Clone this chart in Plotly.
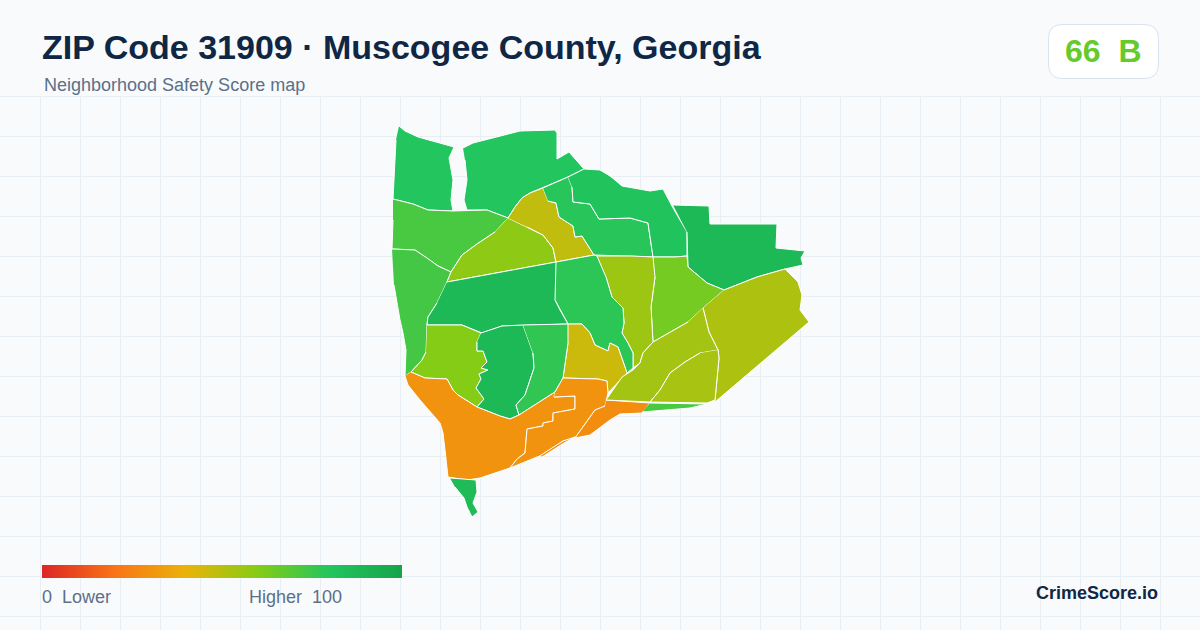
import plotly.graph_objects as go
from plotly.colors import find_intermediate_color, hex_to_rgb

WIDTH = 1200
HEIGHT = 630
GRID_TOP = 96

title = "ZIP Code 31909 · Muscogee County, Georgia"
subtitle = "Neighborhood Safety Score map"
zip_score = 66
zip_grade = "B"
legend_low = "0\u00a0\u00a0Lower"
legend_high = "Higher\u00a0\u00a0100"
brand = "CrimeScore.io"

scale_stops = [0, 0.2, 0.4, 0.6, 0.8, 1]
scale_colors = ["#dc2626", "#f97316", "#eab308", "#84cc16", "#22c55e", "#16a34a"]

# Outlines are (x, y) map positions, one list per neighborhood
north_west = [(399, 126), (405, 131), (418, 137), (454, 147), (449, 158), (453, 180), (451, 200), (453, 211), (428, 210), (413, 204), (393, 199), (394, 173), (396, 140)]
north_mid = [(463, 148), (473, 143), (520, 131), (555, 130), (557, 133), (557, 159), (569, 152), (584, 169), (568, 177), (543, 188), (530, 193), (522, 198), (515, 207), (508, 218), (487, 210), (467, 210), (464, 200), (467, 180), (465, 160)]
west = [(393, 199), (413, 204), (428, 210), (453, 211), (487, 210), (508, 218), (495, 232), (477, 244), (462, 255), (451, 272), (438, 266), (427, 258), (415, 250), (392, 249), (393, 220)]
south_west = [(392, 249), (415, 250), (427, 258), (438, 266), (451, 272), (447, 282), (437, 303), (428, 317), (427, 325), (426, 352), (422, 360), (411, 372), (405, 376), (406, 350), (403, 333), (400, 320), (394, 285)]
mid_lime = [(508, 218), (527, 227), (543, 235), (553, 248), (556, 262), (447, 282), (451, 272), (462, 255), (477, 244), (495, 232)]
mid_olive = [(508, 218), (515, 207), (522, 198), (530, 193), (543, 188), (548, 201), (556, 203), (559, 217), (573, 226), (575, 237), (582, 236), (594, 255), (556, 262), (553, 248), (543, 235), (527, 227)]
north_inner = [(543, 188), (568, 177), (572, 187), (573, 202), (590, 204), (599, 219), (630, 218), (648, 223), (653, 257), (620, 256), (594, 255), (582, 236), (575, 237), (573, 226), (559, 217), (556, 203), (548, 201)]
north_east = [(568, 177), (584, 169), (600, 170), (610, 176), (615, 180), (622, 186), (650, 191), (663, 189), (673, 208), (687, 232), (687, 256), (675, 257), (653, 257), (648, 223), (630, 218), (599, 219), (590, 204), (573, 202), (572, 187)]
far_east = [(673, 205), (709, 206), (710, 224), (777, 224), (776, 248), (805, 251), (801, 258), (803, 265), (785, 269), (757, 277), (724, 290), (707, 283), (688, 267), (687, 232)]
east_lime = [(653, 257), (675, 257), (687, 256), (688, 267), (707, 283), (724, 290), (703, 308), (688, 322), (653, 342), (651, 307), (655, 277)]
center_east = [(597, 256), (632, 256), (653, 257), (655, 277), (651, 307), (653, 342), (643, 353), (640, 363), (633, 368), (633, 353), (628, 343), (622, 333), (624, 323), (623, 308), (612, 297), (606, 277)]
center = [(556, 262), (594, 255), (597, 256), (606, 277), (612, 297), (623, 308), (624, 323), (622, 333), (628, 343), (633, 353), (633, 368), (627, 373), (618, 347), (610, 343), (608, 351), (595, 345), (590, 333), (582, 324), (568, 324), (560, 310), (555, 300)]
gold = [(568, 324), (582, 324), (590, 333), (595, 345), (608, 351), (610, 343), (618, 347), (627, 373), (608, 393), (607, 381), (598, 379), (563, 378), (568, 343)]
central_dark = [(447, 282), (556, 262), (555, 300), (560, 310), (568, 324), (523, 325), (502, 326), (482, 333), (462, 325), (427, 325), (428, 317), (437, 303)]
west_lime = [(427, 325), (462, 325), (481, 333), (477, 342), (477, 351), (483, 351), (487, 362), (481, 368), (488, 370), (479, 374), (481, 379), (476, 388), (484, 399), (477, 407), (458, 395), (453, 390), (447, 379), (425, 378), (411, 372), (422, 360), (426, 352)]
lower_dark = [(481, 333), (502, 326), (523, 325), (533, 353), (534, 368), (525, 395), (516, 405), (519, 415), (510, 419), (500, 416), (477, 407), (484, 399), (476, 388), (481, 379), (479, 374), (488, 370), (481, 368), (487, 362), (483, 351), (477, 351), (477, 342)]
lower_green = [(523, 325), (568, 324), (568, 343), (563, 378), (555, 392), (519, 415), (516, 405), (525, 395), (534, 368), (533, 353)]
orange_west = [(411, 372), (425, 378), (447, 379), (453, 390), (458, 395), (477, 407), (500, 416), (510, 419), (519, 415), (555, 392), (554, 397), (575, 396), (575, 409), (553, 413), (553, 421), (543, 423), (543, 426), (527, 429), (525, 453), (517, 459), (510, 468), (480, 478), (467, 480), (448, 477), (445, 450), (443, 433), (440, 423), (420, 400), (408, 385), (405, 376)]
orange_mid = [(555, 392), (563, 378), (598, 379), (607, 381), (608, 393), (606, 400), (605, 406), (595, 410), (575, 438), (563, 441), (542, 455), (510, 468), (517, 459), (525, 453), (527, 429), (543, 426), (543, 423), (553, 421), (553, 413), (575, 409), (575, 396), (554, 397)]
orange_sliver = [(541, 455), (563, 441), (575, 437), (564, 443), (542, 457)]
orange_east = [(606, 400), (650, 403), (642, 413), (620, 414), (610, 420), (590, 435), (575, 438), (595, 410), (605, 406)]
south_tail = [(450, 478), (476, 480), (477, 492), (473, 503), (478, 512), (472, 517), (467, 507), (464, 498), (455, 487)]
south_east = [(724, 290), (757, 277), (785, 269), (798, 282), (802, 295), (800, 310), (809, 322), (715, 402), (715, 400), (719, 358), (718, 350), (709, 332), (703, 308)]
river_mid = [(703, 308), (709, 332), (718, 350), (700, 353), (685, 362), (670, 373), (660, 390), (650, 402), (606, 400), (622, 377), (633, 370), (640, 363), (643, 353), (653, 342), (688, 322)]
river_east = [(718, 350), (719, 358), (715, 400), (707, 403), (650, 402), (660, 390), (670, 373), (685, 362), (700, 353)]
river_strip = [(650, 403), (707, 404), (690, 408), (642, 412)]

regions = [
    (north_west, 80), (north_mid, 80), (west, 72), (south_west, 73),
    (mid_lime, 58), (mid_olive, 48), (north_inner, 79), (north_east, 81),
    (far_east, 87), (east_lime, 63), (center_east, 55), (center, 78),
    (gold, 46), (central_dark, 87), (west_lime, 60), (lower_dark, 87),
    (lower_green, 77), (orange_west, 30), (orange_mid, 30), (orange_sliver, 30),
    (orange_east, 28), (south_tail, 86), (south_east, 52), (river_mid, 54),
    (river_east, 53), (river_strip, 72),
]

colorscale = [[stop, color] for stop, color in zip(scale_stops, scale_colors)]


def score_color(score):
    # sample_colorscale trips over hex colours, so walk the stops by hand
    t = score / 100
    for i in range(len(scale_stops) - 1):
        if t <= scale_stops[i + 1]:
            share = (t - scale_stops[i]) / (scale_stops[i + 1] - scale_stops[i])
            r, g, b = find_intermediate_color(
                hex_to_rgb(scale_colors[i]), hex_to_rgb(scale_colors[i + 1]), share
            )
            return f"rgb({r:.0f},{g:.0f},{b:.0f})"
    return scale_colors[-1]


def py(pixel):
    # paper coordinates run bottom-up, the layout was measured top-down
    return 1 - pixel / HEIGHT


def add_text(fig, x, y, text, size, color, bold=False, xanchor="left"):
    fig.add_annotation(
        x=x / WIDTH,
        y=py(y),
        xref="paper",
        yref="paper",
        text=f"<b>{text}</b>" if bold else text,
        showarrow=False,
        xanchor=xanchor,
        yanchor="middle",
        borderpad=0,
        borderwidth=0,
        font=dict(family="Liberation Sans, Arial, sans-serif", size=size, color=color),
    )


fig = go.Figure()

for outline, score in regions:
    fig.add_trace(
        go.Scatter(
            x=[p[0] for p in outline],
            y=[p[1] for p in outline],
            mode="lines",
            fill="toself",
            fillcolor=score_color(score),
            line=dict(color="#ffffff", width=1),
            hoverinfo="skip",
            showlegend=False,
        )
    )

# Empty trace, only here so that the colour axis draws its bar
fig.add_trace(
    go.Scatter(
        x=[None],
        y=[None],
        mode="markers",
        marker=dict(color=[0], coloraxis="coloraxis"),
        hoverinfo="skip",
        showlegend=False,
    )
)

add_text(fig, 42, 47.5, title, 34, "#0f2744", bold=True)
add_text(fig, 44, 85, subtitle, 18, "#5b7089")
add_text(fig, 1103, 51, f"{zip_score}\u00a0\u00a0{zip_grade}", 32, score_color(zip_score), bold=True, xanchor="center")
add_text(fig, 42, 597, legend_low, 18, "#5b7089")
add_text(fig, 342, 597, legend_high, 18, "#5b7089", xanchor="right")
add_text(fig, 1158, 593, brand, 18, "#0f2744", bold=True, xanchor="right")

badge = "M1062,24.5 H1144 Q1158.5,24.5 1158.5,38.5 V64 Q1158.5,78.5 1144,78.5 H1062 Q1048.5,78.5 1048.5,64 V38.5 Q1048.5,24.5 1062,24.5 Z"
fig.add_shape(
    type="path",
    path=badge,
    xref="x",
    yref="y",
    fillcolor="#ffffff",
    line=dict(color="#dbe3ec", width=1),
    layer="below",
)

# horizontal grid lines start below the header, the axis grid would run to the top
for y in range(GRID_TOP, HEIGHT, 40):
    fig.add_hline(y=y + 0.5, line=dict(color="#e8eff4", width=1), layer="below")

fig.update_layout(
    width=WIDTH,
    height=HEIGHT,
    margin=dict(l=0, r=0, t=0, b=0, autoexpand=False),
    paper_bgcolor="#f8fafc",
    plot_bgcolor="#f8fafc",
    showlegend=False,
    coloraxis=dict(
        cmin=0,
        cmax=100,
        colorscale=colorscale,
        colorbar=dict(
            orientation="h",
            x=42 / WIDTH,
            xanchor="left",
            y=py(578),
            yanchor="bottom",
            len=360,
            lenmode="pixels",
            thickness=13,
            thicknessmode="pixels",
            xpad=0,
            ypad=0,
            outlinewidth=0,
            borderwidth=0,
            ticks="",
            showticklabels=False,
        ),
    ),
    xaxis=dict(
        range=[0, WIDTH],
        showgrid=False,
        zeroline=False,
        showticklabels=False,
        ticks="",
        fixedrange=True,
    ),
    yaxis=dict(
        range=[HEIGHT, 0],
        showgrid=False,
        zeroline=False,
        showticklabels=False,
        ticks="",
        fixedrange=True,
    ),
)

# vertical grid lines, same reason
for x in range(40, WIDTH, 40):
    fig.add_shape(
        type="line",
        x0=x + 0.5,
        x1=x + 0.5,
        y0=GRID_TOP,
        y1=HEIGHT,
        line=dict(color="#e8eff4", width=1),
        layer="below",
    )

# the default page keeps an 8px body margin around the figure
fig.write_html(
    "out.html",
    config={"displayModeBar": False},
    post_script="document.body.style.margin = '0';",
)
